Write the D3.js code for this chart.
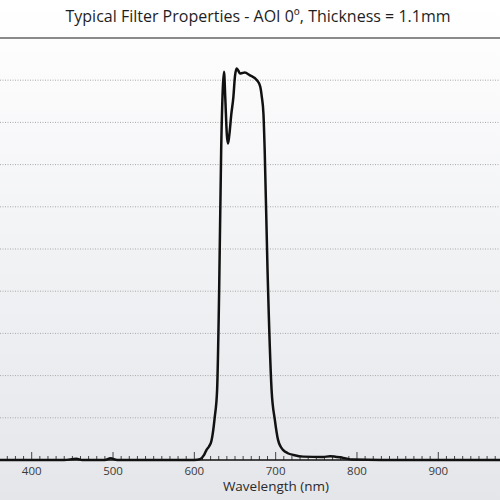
<!DOCTYPE html>
<html>
<head>
<meta charset="utf-8">
<script src="https://cdn.jsdelivr.net/npm/d3@7"></script>
<style>
  body { margin: 0; }
  svg { display: block; font-family: "Open Sans", sans-serif; }
</style>
</head>
<body>
<script>
const wavelength = [360, 400, 440, 455, 462, 490, 497, 505, 600, 607, 612, 615, 618, 621, 625, 628,
    630.5, 633, 635, 636.5, 638, 640, 641.4, 643, 645.5, 648, 650, 652, 654, 656, 659, 662, 668,
    677, 681, 683, 685, 686.5, 690, 695, 699, 703, 706, 709, 715, 722, 734, 758, 767, 783, 795, 830, 980]
const transmission = [0, 0, 0, 0.3, 0, 0, 0.4, 0, 0, 0.2, 1.2, 2.4, 3.2, 4.5, 10, 16.6,
    40, 73.5, 88, 92, 86, 77, 75, 77, 82, 86, 91, 92.8, 92.3, 91.6, 91.7, 91.8, 91.2,
    90, 88.5, 86, 82, 73.5, 45, 16.6, 9.5, 4.7, 3.2, 2.4, 1.6, 1.2, 0.8, 0.7, 0.9, 0.5, 0.1, 0, 0]
const majorTicks = [400, 500, 600, 700, 800, 900]
const gridValues = [10, 20, 30, 40, 50, 60, 70, 80, 90]

const WIDTH = 500
const HEIGHT = 500

const svg = d3
    .select("body")
    .append("svg")
    .attr("width", WIDTH)
    .attr("height", HEIGHT)

const grad = svg.append("defs")
    .append("linearGradient")
    .attr("id", "bg")
    .attr("x1", 0).attr("y1", 0)
    .attr("x2", 0).attr("y2", 1)
grad.append("stop").attr("offset", "0%").attr("stop-color", "#ffffff")
grad.append("stop").attr("offset", "100%").attr("stop-color", "#e4e6ea")

svg.append("rect")
    .attr("width", WIDTH)
    .attr("height", HEIGHT)
    .attr("fill", "url(#bg)")

const x = d3.scaleLinear().domain([400, 900]).range([31.7, 438.3])
const y = d3.scaleLinear().domain([0, 100]).range([460, 38])

// title
svg.append("text")
    .attr("x", 258)
    .attr("y", 21.5)
    .attr("text-anchor", "middle")
    .attr("font-size", 16)
    .attr("fill", "#1e1e1e")
    .text("Typical Filter Properties - AOI 0º, Thickness = 1.1mm")

// top border
svg.append("line")
    .attr("x1", 0).attr("x2", WIDTH)
    .attr("y1", y(100)).attr("y2", y(100))
    .attr("stroke", "#8a8a8a")
    .attr("stroke-width", 2)

// dotted grid
svg.selectAll(".grid")
    .data(gridValues)
    .enter()
    .append("line")
    .attr("class", "grid")
    .attr("x1", 0).attr("x2", WIDTH)
    .attr("y1", d => y(d)).attr("y2", d => y(d))
    .attr("stroke", "#a8a8a8")
    .attr("stroke-width", 1)
    .attr("stroke-dasharray", "1,1.5")

// x axis
const minorTicks = d3.range(360, 980, 10).filter(d => !majorTicks.includes(d))
const axis = svg.append("g").attr("transform", `translate(0,${y(0)})`)

axis.selectAll(".minor")
    .data(minorTicks)
    .enter()
    .append("line")
    .attr("x1", d => x(d)).attr("x2", d => x(d))
    .attr("y1", 0).attr("y2", -4)
    .attr("stroke", "#444")
    .attr("stroke-width", 1)

axis.selectAll(".major")
    .data(majorTicks)
    .enter()
    .append("line")
    .attr("x1", d => x(d)).attr("x2", d => x(d))
    .attr("y1", 0).attr("y2", -8)
    .attr("stroke", "#444")
    .attr("stroke-width", 1)

axis.selectAll(".label")
    .data(majorTicks)
    .enter()
    .append("text")
    .attr("x", d => x(d))
    .attr("y", 15)
    .attr("text-anchor", "middle")
    .attr("font-size", 11.5)
    .attr("fill", "#3a3a3a")
    .text(d => d)

axis.append("line")
    .attr("x1", 0).attr("x2", WIDTH)
    .attr("stroke", "#111")
    .attr("stroke-width", 1.5)

svg.append("text")
    .attr("x", 276)
    .attr("y", 491)
    .attr("text-anchor", "middle")
    .attr("font-size", 13.5)
    .attr("fill", "#2a2a2a")
    .text("Wavelength (nm)")

// curve
const points = wavelength.map((w, i) => [w, transmission[i]])
const line = d3.line()
    .x(d => x(d[0]))
    .y(d => y(d[1]))
    .curve(d3.curveMonotoneX)

svg.append("path")
    .datum(points)
    .attr("d", line)
    .attr("fill", "none")
    .attr("stroke", "#111")
    .attr("stroke-width", 2.5)
    .attr("stroke-linejoin", "round")
</script>
</body>
</html>
